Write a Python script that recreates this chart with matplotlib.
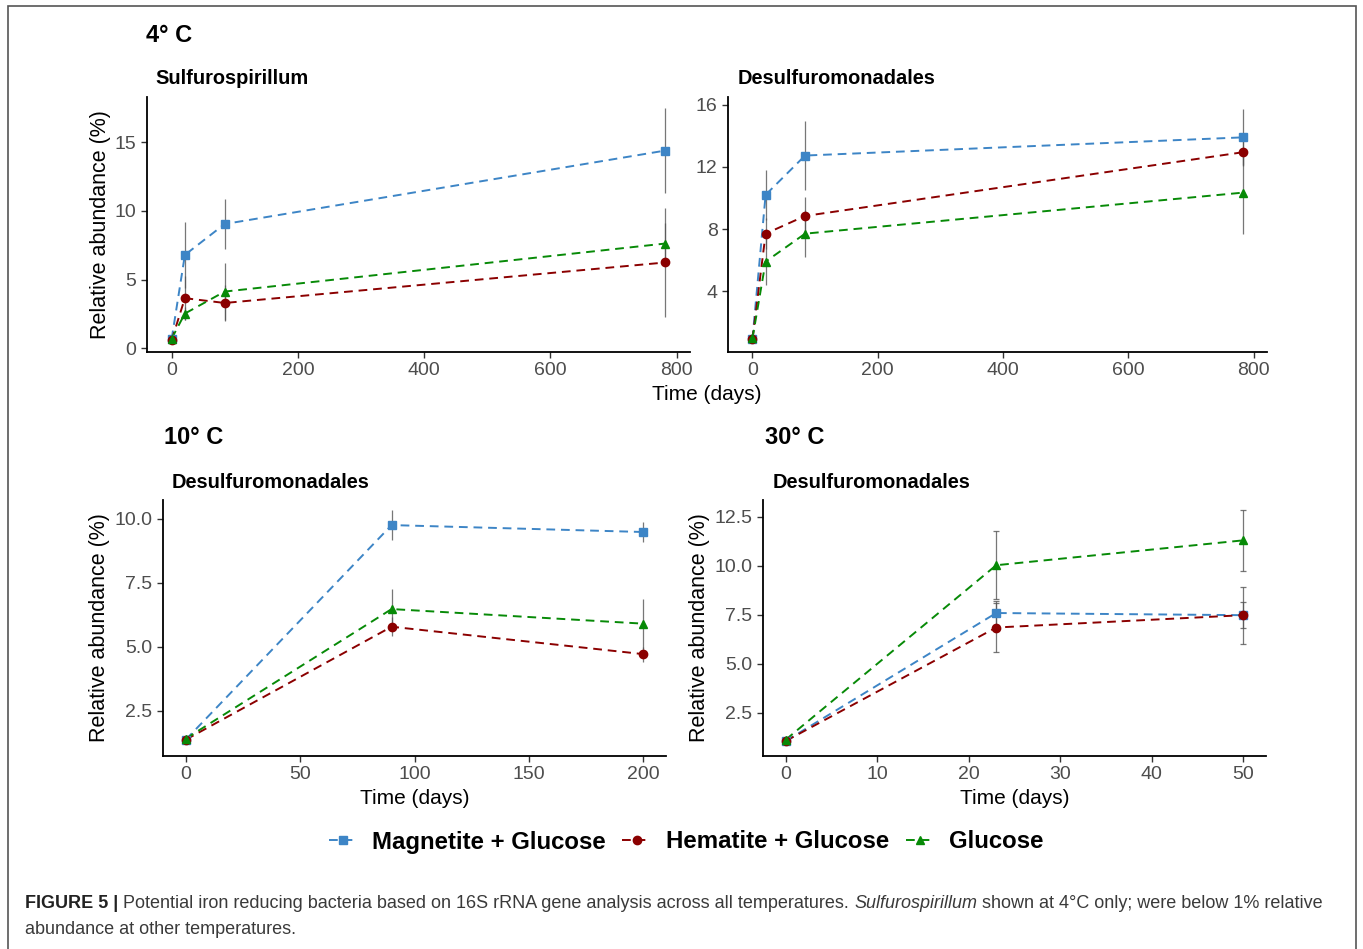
import matplotlib
matplotlib.use("Agg")
import matplotlib.pyplot as plt
from matplotlib.lines import Line2D
from matplotlib.patches import Rectangle

plt.rcParams['font.family'] = ['Liberation Sans', 'DejaVu Sans']

# ---- data ----
series_names = ['Magnetite + Glucose', 'Hematite + Glucose', 'Glucose']

# 4 C, Sulfurospirillum
p1_days = [0, 21, 84, 782]
p1_mag = [0.66, 6.8, 9.05, 14.4]
p1_mag_err = [0.1, 2.4, 1.8, 3.1]
p1_hem = [0.58, 3.65, 3.3, 6.25]
p1_hem_err = [0.1, 1.6, 1.3, 3.95]
p1_glu = [0.7, 2.53, 4.13, 7.63]
p1_glu_err = [0.1, 0.5, 2.1, 1.5]

# 4 C, Desulfuromonadales
p2_days = [0, 21, 84, 782]
p2_mag = [0.9, 10.2, 12.73, 13.9]
p2_mag_err = [0.1, 1.6, 2.2, 1.84]
p2_hem = [0.9, 7.7, 8.84, 12.94]
p2_hem_err = [0.1, 1.0, 1.22, 0.8]
p2_glu = [0.95, 5.9, 7.7, 10.34]
p2_glu_err = [0.1, 1.5, 1.5, 2.67]

# 10 C, Desulfuromonadales
p3_days = [0, 90, 200]
p3_mag = [1.37, 9.75, 9.48]
p3_mag_err = [0.05, 0.57, 0.4]
p3_hem = [1.37, 5.78, 4.71]
p3_hem_err = [0.05, 0.38, 0.29]
p3_glu = [1.41, 6.47, 5.9]
p3_glu_err = [0.05, 0.8, 0.98]

# 30 C, Desulfuromonadales
p4_days = [0, 23, 50]
p4_mag = [1.05, 7.58, 7.47]
p4_mag_err = [0.05, 0.6, 0.65]
p4_hem = [1.05, 6.84, 7.47]
p4_hem_err = [0.05, 1.25, 1.45]
p4_glu = [1.12, 10.02, 11.29]
p4_glu_err = [0.05, 1.74, 1.55]

colors = ['#3d85c6', '#8b0000', '#078a07']
markers = ['s', 'o', '^']
dash = (0, (4.5, 3))

W, H = 1363, 949
fig = plt.figure(figsize=(W / 100, H / 100), dpi=100)


def px_axes(left, right, top, bottom):
    return fig.add_axes([left / W, 1 - bottom / H, (right - left) / W, (bottom - top) / H])


def draw_panel(ax, days, vals, errs, capsize):
    for v, e, c, m in zip(vals, errs, colors, markers):
        ax.errorbar(days, v, yerr=e, fmt='none', ecolor='#555555', elinewidth=0.9,
                    capsize=capsize, capthick=0.9, alpha=0.8, zorder=3)
        ax.plot(days, v, linestyle=dash, color=c, lw=1.4, zorder=2)
        ax.plot(days, v, linestyle='none', marker=m, color=c, ms=6, zorder=4)
    for s in ['top', 'right']:
        ax.spines[s].set_visible(False)
    for s in ['left', 'bottom']:
        ax.spines[s].set_linewidth(1.3)
    ax.tick_params(labelsize=14, colors='#4d4d4d', length=4, width=1)
    ax.tick_params(axis='both', color='#333333')


ax1 = px_axes(147, 690, 97, 352)
draw_panel(ax1, p1_days, [p1_mag, p1_hem, p1_glu], [p1_mag_err, p1_hem_err, p1_glu_err], 0)
ax1.set_xlim(-39, 821)
ax1.set_ylim(-0.27, 18.3)
ax1.set_xticks([0, 200, 400, 600, 800])
ax1.set_yticks([0, 5, 10, 15])
ax1.set_ylabel('Relative abundance (%)', fontsize=15.5, labelpad=3)

ax2 = px_axes(728, 1267, 97, 352)
draw_panel(ax2, p2_days, [p2_mag, p2_hem, p2_glu], [p2_mag_err, p2_hem_err, p2_glu_err], 0)
ax2.set_xlim(-39, 821)
ax2.set_ylim(0.08, 16.5)
ax2.set_xticks([0, 200, 400, 600, 800])
ax2.set_yticks([4, 8, 12, 16])

ax3 = px_axes(163, 666, 500, 756)
draw_panel(ax3, p3_days, [p3_mag, p3_hem, p3_glu], [p3_mag_err, p3_hem_err, p3_glu_err], 0)
ax3.set_xlim(-10, 210)
ax3.set_ylim(0.73, 10.73)
ax3.set_xticks([0, 50, 100, 150, 200])
ax3.set_yticks([2.5, 5.0, 7.5, 10.0])
ax3.set_yticklabels(['2.5', '5.0', '7.5', '10.0'])
ax3.set_ylabel('Relative abundance (%)', fontsize=15.5, labelpad=3)
ax3.set_xlabel('Time (days)', fontsize=15, labelpad=4)

ax4 = px_axes(763, 1266, 500, 756)
draw_panel(ax4, p4_days, [p4_mag, p4_hem, p4_glu], [p4_mag_err, p4_hem_err, p4_glu_err], 2)
ax4.set_xlim(-2.5, 52.5)
ax4.set_ylim(0.28, 13.35)
ax4.set_xticks([0, 10, 20, 30, 40, 50])
ax4.set_yticks([2.5, 5.0, 7.5, 10.0, 12.5])
ax4.set_yticklabels(['2.5', '5.0', '7.5', '10.0', '12.5'])
ax4.set_ylabel('Relative abundance (%)', fontsize=15.5, labelpad=3)
ax4.set_xlabel('Time (days)', fontsize=15, labelpad=4)

# shared x title for top row
fig.text(707 / W, 1 - 395 / H, 'Time (days)', fontsize=15, ha='center', va='center')

# panel headings
def fig_label(x, y, s, size):
    fig.text(x / W, 1 - y / H, s, fontsize=size, fontweight='bold', ha='left', va='center')

fig_label(146, 35, '4° C', 17)
fig_label(155, 78, 'Sulfurospirillum', 14.4)
fig_label(738, 78, 'Desulfuromonadales', 14.4)
fig_label(164, 438, '10° C', 17)
fig_label(172, 482, 'Desulfuromonadales', 14.4)
fig_label(765, 438, '30° C', 17)
fig_label(773, 482, 'Desulfuromonadales', 14.4)

# legend
handles = [Line2D([0], [0], color=c, linestyle=dash, lw=1.4, marker=m, ms=6)
           for c, m in zip(colors, markers)]
fig.legend(handles, series_names, loc='center', bbox_to_anchor=(686 / W, 1 - 842 / H),
           ncol=3, frameon=False, prop={'weight': 'bold', 'size': 17.3},
           handlelength=1.2, handletextpad=0.6, columnspacing=0.7)

# frame around the figure block
fig.patches.append(Rectangle((8 / W, -0.02), 1348 / W, 1.02 - 6 / H, transform=fig.transFigure,
                             fill=False, edgecolor='#555555', lw=1.2))

# caption, drawn piece by piece
renderer = fig.canvas.get_renderer()
cap_color = '#3a3a3a'
cap_size = 13
pieces = [('FIGURE 5 | ', 'bold', 'normal', '#222222'),
          ('Potential iron reducing bacteria based on 16S rRNA gene analysis across all temperatures. ',
           'normal', 'normal', cap_color),
          ('Sulfurospirillum', 'normal', 'italic', cap_color),
          (' shown at 4°C only; were below 1% relative', 'normal', 'normal', cap_color)]
x = 25
for s, wgt, sty, col in pieces:
    t = fig.text(x / W, 1 - 904 / H, s, fontsize=cap_size, fontweight=wgt, fontstyle=sty,
                 color=col, ha='left', va='center')
    x += t.get_window_extent(renderer).width
fig.text(25 / W, 1 - 929 / H, 'abundance at other temperatures.', fontsize=cap_size,
         color=cap_color, ha='left', va='center')

fig.savefig('out.png', dpi=100)
